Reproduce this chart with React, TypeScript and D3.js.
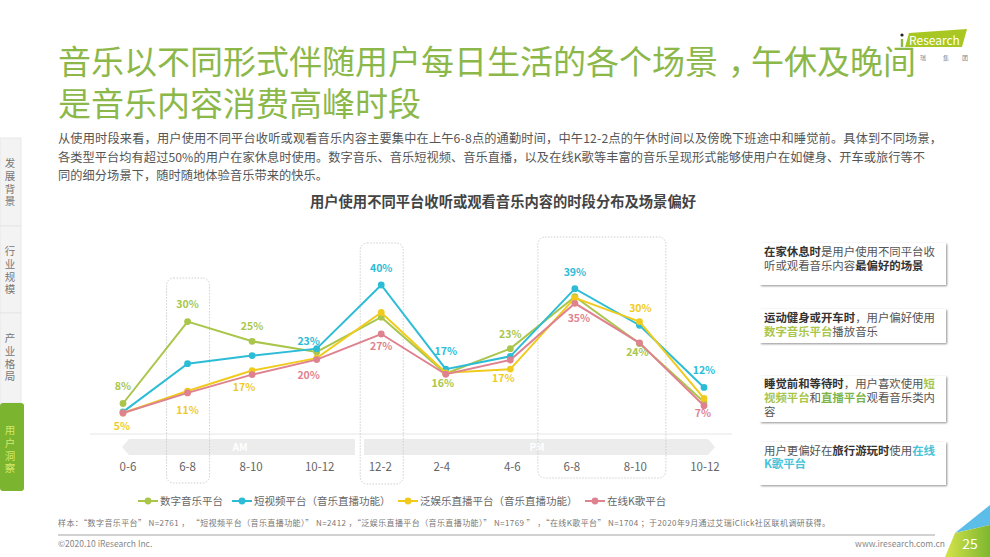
import * as d3 from "d3";

const categories = ["0-6", "6-8", "8-10", "10-12", "12-2", "2-4", "4-6", "6-8 ", "8-10 ", "10-12 "];

const seriesNames = ["数字音乐平台", "短视频平台（音乐直播功能）", "泛娱乐直播平台（音乐直播功能）", "在线K歌平台"];
const digitalMusic = [7.6, 30, 24.6, 21.7, 31.2, 15.8, 22.6, 36.8, 24, 8];
const shortVideo = [5.3, 18.5, 20.7, 22.6, 40, 17, 20.5, 39, 29, 12];
const liveStream = [5, 11, 16.6, 20, 32.5, 16, 17, 36.5, 30, 9];
const karaoke = [5, 10.5, 15.5, 19.6, 26.6, 15.6, 19.5, 35, 24.2, 7];
const seriesValues = [digitalMusic, shortVideo, liveStream, karaoke];
const seriesColors = ["#a9c64b", "#2dbcd6", "#f0cb1e", "#df8290"];

// series index, category index, [dx, dy] from the point
const valueLabels: [number, number, number, number][] = [
  [0, 0, 0, -16],
  [2, 0, -1, 14],
  [0, 1, 0, -16],
  [2, 1, 0, 20],
  [0, 2, 0, -14],
  [2, 2, -8, 18],
  [1, 3, -8, -6],
  [3, 3, -8, 17],
  [1, 4, 0, -16],
  [3, 4, 0, 13],
  [1, 5, 0, -17],
  [0, 5, -3, 11],
  [0, 6, 0, -13],
  [2, 6, -7, 10],
  [1, 7, 0, -16],
  [3, 7, 4, 16],
  [2, 8, 1, -12],
  [0, 8, -2, 10],
  [1, 9, 0, -16],
  [3, 9, -1, 8],
];

const titleLines = ["音乐以不同形式伴随用户每日生活的各个场景，午休及晚间", "是音乐内容消费高峰时段"];
const bodyLines = [
  "从使用时段来看，用户使用不同平台收听或观看音乐内容主要集中在上午6-8点的通勤时间，中午12-2点的午休时间以及傍晚下班途中和睡觉前。具体到不同场景，",
  "各类型平台均有超过50%的用户在家休息时使用。数字音乐、音乐短视频、音乐直播，以及在线K歌等丰富的音乐呈现形式能够使用户在如健身、开车或旅行等不",
  "同的细分场景下，随时随地体验音乐带来的快乐。",
];
const bodyWidths = [884, 867, 270];
const chartTitle = "用户使用不同平台收听或观看音乐内容的时段分布及场景偏好";
const sideTabs = ["发展背景", "行业规模", "产业格局", "用户洞察"];
const sampleNote =
  "样本：“数字音乐平台” N=2761 ， “短视频平台（音乐直播功能）” N=2412 ，“泛娱乐直播平台（音乐直播功能）” N=1769 ” ，“在线K歌平台” N=1704 ；于2020年9月通过艾瑞iClick社区联机调研获得。";

type Seg = { t: string; b?: boolean; c?: string };
const noteBoxes: { top: number; bottom: number; lines: Seg[][] }[] = [
  {
    top: 243,
    bottom: 285,
    lines: [
      [{ t: "在家休息时", b: true }, { t: "是用户使用不同平台收" }],
      [{ t: "听或观看音乐内容" }, { t: "最偏好的场景", b: true }],
    ],
  },
  {
    top: 309,
    bottom: 343,
    lines: [
      [{ t: "运动健身或开车时", b: true }, { t: "，用户偏好使用" }],
      [{ t: "数字音乐平台", b: true, c: "#a9c64b" }, { t: "播放音乐" }],
    ],
  },
  {
    top: 376,
    bottom: 422,
    lines: [
      [{ t: "睡觉前和等待时", b: true }, { t: "，用户喜欢使用" }, { t: "短", b: true, c: "#a9c64b" }],
      [{ t: "视频平台", b: true, c: "#a9c64b" }, { t: "和" }, { t: "直播平台", b: true, c: "#7fb548" }, { t: "观看音乐类内" }],
      [{ t: "容" }],
    ],
  },
  {
    top: 442,
    bottom: 485,
    lines: [
      [{ t: "用户更偏好在" }, { t: "旅行游玩时", b: true }, { t: "使用" }, { t: "在线", b: true, c: "#45c3d8" }],
      [{ t: "K歌平台", b: true, c: "#45c3d8" }],
    ],
  },
];
const noteLineY = [[252, 266], [318, 332], [384, 398, 412], [451, 464]];

const FONT = "'Noto Sans CJK SC', 'Noto Sans', sans-serif";
const GRAY = "#666";

const x = d3.scalePoint<string>().domain(categories).range([123, 704]);
const y = d3.scaleLinear().domain([0, 40]).range([431.3, 285]);
const line = d3
  .line<number>()
  .x((_, i) => x(categories[i]) as number)
  .y((d) => y(d));

// tick labels don't sit exactly under the points in the original
const tickNudge = [5, 0, -1, 3, -1, -4, 2, -3, -4, 1];

function labelText(s: number, c: number) {
  return `${Math.round(seriesValues[s][c])}%`;
}

export default function App() {
  const tabHeights = [138, 226, 313, 403, 491];
  return (
    <svg
      width={990}
      height={557}
      viewBox="0 0 990 557"
      fontFamily={FONT}
      style={{ position: "absolute", left: 0, top: 0, background: "#fff" }}
    >
      <defs>
        <filter id="soft" x="-10%" y="-20%" width="120%" height="140%">
          <feGaussianBlur stdDeviation="0.8" />
        </filter>
        <linearGradient id="corner" x1="0" y1="0" x2="1" y2="0">
          <stop offset="0" stopColor="#d6e34a" />
          <stop offset="1" stopColor="#7db72f" />
        </linearGradient>
      </defs>

      {/* side tabs */}
      {sideTabs.map((label, i) => {
        const active = i === 3;
        return (
          <g key={label}>
            <rect
              x={0}
              y={tabHeights[i]}
              width={active ? 24 : 21}
              height={tabHeights[i + 1] - tabHeights[i]}
              rx={active ? 3 : 0}
              fill={active ? "#7bb42e" : "#f3f3f3"}
              stroke={active ? "none" : "#e4e4e4"}
              strokeWidth={0.8}
            />
            {label.split("").map((ch, j) => (
              <text
                key={j}
                x={10}
                y={tabHeights[i] + (i === 3 ? 31 : 29) + j * 12.8}
                textAnchor="middle"
                fontSize={10.5}
                fill={active ? "#d4e86a" : "#777"}
              >
                {ch}
              </text>
            ))}
          </g>
        );
      })}

      {/* heading, the comma sits mid-cell in the original */}
      {titleLines.map((t, i) => {
        const [head, tail] = t.split("，");
        return (
          <text key={t} x={58} y={74 + i * 42} fontSize={33} fill="#8cb84a">
            {head}
            {tail && (
              <>
                <tspan dx={10}>，</tspan>
                <tspan dx={-10}>{tail}</tspan>
              </>
            )}
          </text>
        );
      })}
      {bodyLines.map((t, i) => (
        <text
          key={i}
          x={58}
          y={[143, 162, 180][i]}
          fontSize={12.2}
          fill="#555"
          textLength={bodyWidths[i]}
          lengthAdjust="spacing"
        >
          {t}
        </text>
      ))}

      {/* logo */}
      <polygon points="909,33 967,29 962,47 905,47" fill="#a9c722" />
      <circle cx={902} cy={35} r={1.6} fill="#222" />
      <line x1={902} x2={902} y1={39} y2={47} stroke="#8cb84a" strokeWidth={2.4} />
      <text x={909} y={45} fontSize={12} fill="#fff">
        Research
      </text>
      {["瑞", "集", "团"].map((ch, i) => (
        <text key={ch} x={[923, 946, 965][i]} y={60} fontSize={6} textAnchor="middle" fill="#888">
          {ch}
        </text>
      ))}

      <text x={503} y={207} fontSize={14.3} fontWeight={700} textAnchor="middle" fill="#444">
        {chartTitle}
      </text>

      {/* axis band */}
      <line x1={90} x2={732} y1={434} y2={434} stroke="#e6e6e6" />
      <polygon points="122,447 129,439 355,439 355,455 129,455" fill="#ececec" />
      <polygon points="364,439 708,439 715,447 708,455 364,455" fill="#ececec" />
      <text x={240} y={451} fontSize={10} fontWeight={700} textAnchor="middle" fill="#fff">
        AM
      </text>
      <text x={537} y={451} fontSize={10} fontWeight={700} textAnchor="middle" fill="#fff">
        PM
      </text>
      {categories.map((c, i) => (
        <text key={c} x={(x(c) as number) + tickNudge[i]} y={471} fontSize={11.5} textAnchor="middle" fill={GRAY}>
          {c.trim()}
        </text>
      ))}

      {/* highlight frames */}
      {[
        ["6-8", 278, 483],
        ["12-2", 243, 484],
      ].map(([c, top, bottom]) => (
        <rect
          key={c as string}
          x={(x(c as string) as number) - 21}
          y={top as number}
          width={43}
          height={(bottom as number) - (top as number)}
          rx={7}
          fill="none"
          stroke="#c9c9c9"
          strokeWidth={0.9}
          strokeDasharray="1.5 1.5"
        />
      ))}
      <rect
        x={(x("6-8 ") as number) - 37}
        y={237}
        width={128}
        height={241}
        rx={7}
        fill="none"
        stroke="#c9c9c9"
        strokeWidth={0.9}
        strokeDasharray="1.5 1.5"
      />

      {/* series */}
      {seriesValues.map((vals, s) => (
        <g key={s}>
          <path d={line(vals) as string} fill="none" stroke={seriesColors[s]} strokeWidth={2} />
          {vals.map((v, i) => (
            <circle key={i} cx={x(categories[i])} cy={y(v)} r={3.4} fill={seriesColors[s]} />
          ))}
        </g>
      ))}
      {valueLabels.map(([s, c, dx, dy], i) => (
        <text
          key={i}
          x={(x(categories[c]) as number) + dx}
          y={y(seriesValues[s][c]) + dy}
          fontSize={10.5}
          fontWeight={700}
          textAnchor="middle"
          dominantBaseline="middle"
          fill={seriesColors[s]}
        >
          {labelText(s, c)}
        </text>
      ))}

      {/* legend */}
      {seriesNames.map((name, s) => {
        const sx = [138, 232, 398, 585][s];
        return (
          <g key={name}>
            <line x1={sx} x2={sx + 20} y1={501} y2={501} stroke={seriesColors[s]} strokeWidth={2} />
            <circle cx={sx + 10} cy={501} r={3.4} fill={seriesColors[s]} />
            <text x={sx + 22} y={505} fontSize={10.5} fill={GRAY}>
              {name}
            </text>
          </g>
        );
      })}

      {/* side notes */}
      {noteBoxes.map((box, i) => (
        <g key={i}>
          <rect x={761} y={box.top + 1} width={186} height={box.bottom - box.top} fill="#8f8f8f" filter="url(#soft)" />
          <rect x={759} y={box.top} width={187} height={box.bottom - box.top} fill="#fff" />
          {box.lines.map((segs, j) => (
            <text key={j} x={764} y={noteLineY[i][j] + 4} fontSize={11.4} fill="#555">
              {segs.map((seg, k) => (
                <tspan key={k} fontWeight={seg.b ? 700 : 400} fill={seg.c ?? (seg.b ? "#333" : "#555")}>
                  {seg.t}
                </tspan>
              ))}
            </text>
          ))}
        </g>
      ))}

      {/* footer */}
      <text x={58} y={526} fontSize={8} fill="#777" textLength={772} lengthAdjust="spacing">
        {sampleNote}
      </text>
      <line x1={58} x2={935} y1={535} y2={535} stroke="#a5a5a5" />
      <text x={58} y={547} fontSize={8.5} fill="#888">
        ©2020.10 iResearch Inc.
      </text>
      <text x={945} y={547} fontSize={8.5} textAnchor="end" fill="#888">
        www.iresearch.com.cn
      </text>
      <polygon points="990,505 955,533 990,525" fill="#5cbde8" />
      <polygon points="990,525 955,533 945,557 990,557" fill="url(#corner)" />
      <text x={970} y={549} fontSize={14} textAnchor="middle" fill="#fff">
        25
      </text>
    </svg>
  );
}
